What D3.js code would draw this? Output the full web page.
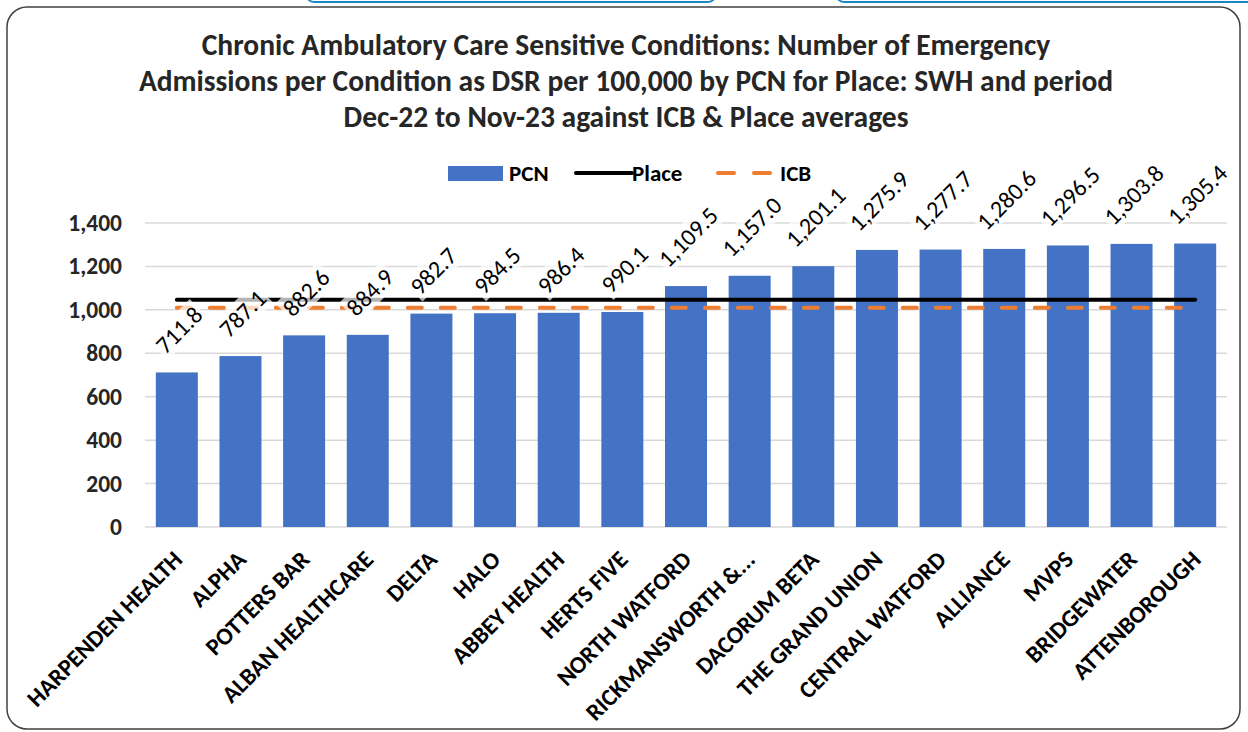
<!DOCTYPE html>
<meta charset="utf-8">
<style>
  body { margin: 0; background: #fff; }
  text { font-family: Carlito, Lato, "Open Sans", sans-serif; }
</style>
<div id="chart"></div>
<script src="https://d3js.org/d3.v7.min.js"></script>
<script>
var categories = ["HARPENDEN HEALTH", "ALPHA", "POTTERS BAR", "ALBAN HEALTHCARE", "DELTA", "HALO", "ABBEY HEALTH", "HERTS FIVE", "NORTH WATFORD", "RICKMANSWORTH &...", "DACORUM BETA", "THE GRAND UNION", "CENTRAL WATFORD", "ALLIANCE", "MVPS", "BRIDGEWATER", "ATTENBOROUGH"];
var pcnValues = [711.8, 787.1, 882.6, 884.9, 982.7, 984.5, 986.4, 990.1, 1109.5, 1157.0, 1201.1, 1275.9, 1277.7, 1280.6, 1296.5, 1303.8, 1305.4];
var placeAverage = 1047;
var icbAverage = 1010;
var yTicks = [0, 200, 400, 600, 800, 1000, 1200, 1400];
var titleLines = ["Chronic Ambulatory Care Sensitive Conditions: Number of Emergency",
  "Admissions per Condition as DSR per 100,000 by PCN for Place: SWH and period",
  "Dec-22 to Nov-23 against ICB & Place averages"];

var W = 1248, H = 732;
var svg = d3.select("#chart").append("svg").attr("width", W).attr("height", H);

// bits of the tabs above the frame
svg.append("rect").attr("x", 306).attr("y", -30).attr("width", 410).attr("height", 32).attr("rx", 8)
  .attr("fill", "#fff").attr("stroke", "#1b87c0").attr("stroke-width", 2);
svg.append("rect").attr("x", 836).attr("y", -30).attr("width", 420).attr("height", 32).attr("rx", 8)
  .attr("fill", "#fff").attr("stroke", "#1b87c0").attr("stroke-width", 2);

// frame
svg.append("rect").attr("x", 7).attr("y", 7).attr("width", 1233).attr("height", 722).attr("rx", 20)
  .attr("fill", "#fff").attr("stroke", "#404040").attr("stroke-width", 1.5);

// title
svg.append("g").selectAll("text").data(titleLines).enter().append("text")
  .attr("x", 626).attr("y", function(d, i) { return 55 + i * 36; })
  .attr("text-anchor", "middle").attr("font-size", 29.5).attr("font-weight", "bold").attr("fill", "#262626")
  .text(function(d) { return d; });

var x = d3.scaleBand().domain(categories).range([145, 1227]).paddingInner(0.34).paddingOuter(0.17);
var y = d3.scaleLinear().domain([0, 1400]).range([527, 223]);

// gridlines
svg.append("g").selectAll("line").data(yTicks).enter().append("line")
  .attr("x1", 145).attr("x2", 1227)
  .attr("y1", function(d) { return y(d); }).attr("y2", function(d) { return y(d); })
  .attr("stroke", "#d9d9d9").attr("stroke-width", 1.5);

// y axis
var yAxis = svg.append("g").attr("transform", "translate(145,0)")
  .call(d3.axisLeft(y).tickValues(yTicks).tickSize(0).tickPadding(23).tickFormat(d3.format(",")));
yAxis.select(".domain").remove();
yAxis.selectAll("text").attr("font-size", 23.5).attr("font-weight", "bold").attr("fill", "#262626")
  .style("font-family", "Carlito, Lato, sans-serif");

// bars
svg.append("g").selectAll("rect").data(pcnValues).enter().append("rect")
  .attr("x", function(d, i) { return x(categories[i]); })
  .attr("width", x.bandwidth())
  .attr("y", function(d) { return y(d); })
  .attr("height", function(d) { return y(0) - y(d); })
  .attr("fill", "#4472c4");

// averages
var first = x(categories[0]) + x.bandwidth() / 2;
var last = x(categories[categories.length - 1]) + x.bandwidth() / 2;
svg.append("line").attr("x1", first).attr("x2", last).attr("y1", y(placeAverage)).attr("y2", y(placeAverage))
  .attr("stroke", "#000").attr("stroke-width", 4).attr("stroke-linecap", "round");
svg.append("line").attr("x1", first).attr("x2", last).attr("y1", y(icbAverage)).attr("y2", y(icbAverage))
  .attr("stroke", "#ed7d31").attr("stroke-width", 4).attr("stroke-linecap", "round")
  .attr("stroke-dasharray", "14,19");

// data labels, rotated, white half-clear boxes
var fmt = d3.format(",.1f");
var labels = svg.append("g").selectAll("g").data(pcnValues).enter().append("g");
labels.each(function(d, i) {
  var g = d3.select(this);
  var t = g.append("text").attr("font-size", 24).attr("fill", "#000")
    .attr("text-anchor", "middle").attr("dy", "0.35em").text(fmt(d));
  var L = t.node().getComputedTextLength();
  var half = (L + 18) / (2 * Math.SQRT2);
  var cx = x(categories[i]) + x.bandwidth() / 2 + 2;
  var cy = y(d) - 17 - half;
  g.attr("transform", "translate(" + cx + "," + cy + ") rotate(-45)");
  g.insert("rect", "text").attr("x", -L / 2 - 2).attr("y", -14).attr("width", L + 4).attr("height", 28)
    .attr("fill", "#fff").attr("opacity", 0.7);
});

// category labels
svg.append("g").selectAll("text").data(categories).enter().append("text")
  .attr("transform", function(d) {
    return "translate(" + (x(d) + x.bandwidth() / 2 + 7) + ",561) rotate(-45)";
  })
  .attr("text-anchor", "end").attr("font-size", 24).attr("font-weight", "bold").attr("fill", "#000")
  .text(function(d) { return d; });

// legend
var lg = svg.append("g");
lg.append("rect").attr("x", 448).attr("y", 166).attr("width", 55).attr("height", 15).attr("fill", "#4472c4");
lg.append("text").attr("x", 509).attr("y", 181).attr("font-size", 23).attr("font-weight", "bold").text("PCN");
lg.append("line").attr("x1", 576).attr("x2", 632).attr("y1", 173).attr("y2", 173)
  .attr("stroke", "#000").attr("stroke-width", 4).attr("stroke-linecap", "round");
lg.append("text").attr("x", 632).attr("y", 181).attr("font-size", 23).attr("font-weight", "bold").text("Place");
lg.append("line").attr("x1", 718).attr("x2", 774).attr("y1", 173).attr("y2", 173)
  .attr("stroke", "#ed7d31").attr("stroke-width", 4).attr("stroke-linecap", "round")
  .attr("stroke-dasharray", "16,20");
lg.append("text").attr("x", 780).attr("y", 181).attr("font-size", 23).attr("font-weight", "bold").text("ICB");
</script>
